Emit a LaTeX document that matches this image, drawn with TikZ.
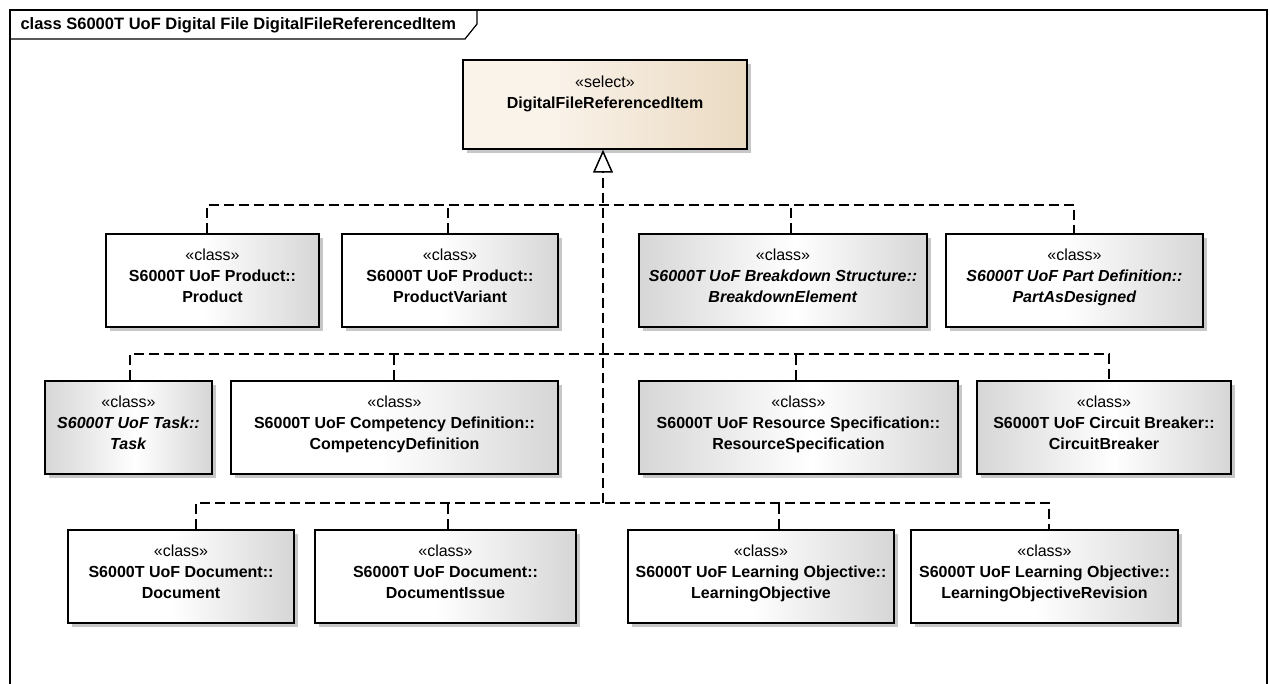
\documentclass[tikz,border=0pt]{standalone}
\usepackage{fontspec}
\setmainfont{Liberation Sans}
\usetikzlibrary{arrows.meta,shadows}

\definecolor{uofgray}{RGB}{214,214,214}
\definecolor{selleft}{RGB}{250,243,234}
\definecolor{selright}{RGB}{234,218,194}
\pgfdeclarehorizontalshading{uofplain}{100bp}{color(0bp)=(white); color(25bp)=(white); color(48bp)=(white); color(75bp)=(uofgray); color(100bp)=(uofgray)}
\pgfdeclarehorizontalshading{uofedged}{100bp}{color(0bp)=(uofgray); color(25bp)=(uofgray); color(52bp)=(white); color(75bp)=(uofgray); color(100bp)=(uofgray)}
\pgfdeclarehorizontalshading{uofselect}{100bp}{color(0bp)=(selleft); color(25bp)=(selleft); color(40bp)=(selleft); color(75bp)=(selright); color(100bp)=(selright)}

\newcommand{\uofcls}[2]{«class»\\\textbf{#1}\\\textbf{#2}\rule[-9pt]{0pt}{9pt}}

\begin{document}
\begin{tikzpicture}[x=1pt, y=-1pt,
    umlbox/.style={draw, line width=1.5pt, align=center, minimum height=93pt, inner sep=0pt,
      font=\fontsize{16}{21}\selectfont,
      general shadow={fill=black!22, shadow xshift=4pt, shadow yshift=-4pt}},
    clsplain/.style={umlbox, shade, shading=uofplain},
    clsedged/.style={umlbox, shade, shading=uofedged},
    realize/.style={line width=1.5pt, dash pattern=on 10pt off 5pt}]
    \useasboundingbox (0,0) rectangle (1270,684);

    \draw[line width=1.5pt] (10,684) -- (10,10) -- (1267,10) -- (1267,684);
    \draw[line width=1.2pt] (10,39) -- (465,39) -- (477,24) -- (477,10);
    \node[anchor=west, font=\fontsize{16.5}{19}\selectfont\bfseries] (title) at (17,25) {class S6000T UoF Digital File DigitalFileReferencedItem};

    \node[umlbox, shade, shading=uofselect, minimum width=284pt, minimum height=89pt] (sel) at (605,104.5)
        {«select»\\\textbf{DigitalFileReferencedItem}\rule[-25pt]{0pt}{25pt}};

    \node[clsplain, minimum width=213pt] (product) at (212.5,280.5) {\uofcls{S6000T UoF Product::}{Product}};
    \node[clsplain, minimum width=216pt] (prodvariant) at (450,280.5) {\uofcls{S6000T UoF Product::}{ProductVariant}};
    \node[clsedged, minimum width=288pt] (brkelem) at (783,280.5) {\uofcls{\itshape S6000T UoF Breakdown Structure::}{\itshape BreakdownElement}};
    \node[clsplain, minimum width=257pt] (partdes) at (1074.5,280.5) {\uofcls{\itshape S6000T UoF Part Definition::}{\itshape PartAsDesigned}};

    \node[clsedged, minimum width=167pt] (task) at (128.5,427.5) {\uofcls{\itshape S6000T UoF Task::}{\itshape Task}};
    \node[clsplain, minimum width=327pt] (compdef) at (394.5,427.5) {\uofcls{S6000T UoF Competency Definition::}{CompetencyDefinition}};
    \node[clsedged, minimum width=319pt] (resspec) at (798.5,427.5) {\uofcls{S6000T UoF Resource Specification::}{ResourceSpecification}};
    \node[clsedged, minimum width=254pt] (cbreaker) at (1104,427.5) {\uofcls{S6000T UoF Circuit Breaker::}{CircuitBreaker}};

    \node[clsplain, minimum width=226pt] (document) at (181,576.5) {\uofcls{S6000T UoF Document::}{Document}};
    \node[clsplain, minimum width=261pt] (docissue) at (445.5,576.5) {\uofcls{S6000T UoF Document::}{DocumentIssue}};
    \node[clsplain, minimum width=266pt] (lrnobj) at (761,576.5) {\uofcls{S6000T UoF Learning Objective::}{LearningObjective}};
    \node[clsplain, minimum width=267pt] (lrnobjrev) at (1044.5,576.5) {\uofcls{S6000T UoF Learning Objective::}{LearningObjectiveRevision}};

    \coordinate (r1) at (603,205);
    \coordinate (r2) at (603,354);
    \coordinate (r3) at (603,503);

    \draw[realize, -{Triangle[open, length=23pt, width=20pt]}] (r3) -- (r3 |- sel.south);

    \draw[realize] ([xshift=-5.5]product.north) |- (r1) -| ([xshift=-0.5]partdes.north);
    \draw[realize] ([xshift=-2]prodvariant.north) coordinate (pv) -- (pv |- r1);
    \draw[realize] ([xshift=8]brkelem.north) coordinate (be) -- (be |- r1);

    \draw[realize] ([xshift=1.5]task.north) |- (r2) -| ([xshift=5]cbreaker.north);
    \draw[realize] ([xshift=-0.5]compdef.north) coordinate (cd) -- (cd |- r2);
    \draw[realize] ([xshift=-2.5]resspec.north) coordinate (rs) -- (rs |- r2);

    \draw[realize] ([xshift=15]document.north) |- (r3) -| ([xshift=4.5]lrnobjrev.north);
    \draw[realize] ([xshift=2.5]docissue.north) coordinate (di) -- (di |- r3);
    \draw[realize] ([xshift=18]lrnobj.north) coordinate (lo) -- (lo |- r3);
\end{tikzpicture}
\end{document}
